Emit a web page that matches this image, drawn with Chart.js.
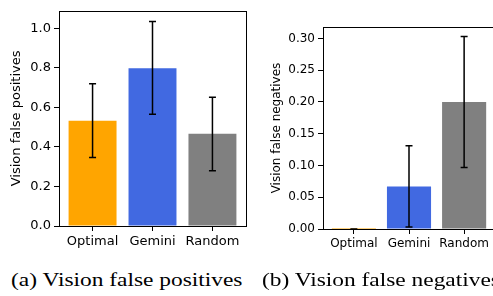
<!DOCTYPE html>
<html>
<head>
<meta charset="utf-8">
<script src="https://cdn.jsdelivr.net/npm/chart.js@4/dist/chart.umd.min.js"></script>
<style>
  html, body { margin: 0; padding: 0; background: #fff; width: 493px; height: 296px; overflow: hidden; position: relative; }
  canvas { position: absolute; top: 0; }
  #chartA { left: 0; }
  #chartB { left: 250px; }
  .caption { position: absolute; top: 269px; font-family: "Liberation Serif", "Times New Roman", serif; font-size: 19.5px; line-height: 22px; white-space: nowrap; color: #000; transform: scaleX(1.2); transform-origin: left center; }
</style>
</head>
<body>
<canvas id="chartA" width="252" height="256"></canvas>
<canvas id="chartB" width="250" height="256"></canvas>
<div class="caption" style="left: 11px">(a) Vision false positives</div>
<div class="caption" style="left: 262px">(b) Vision false negatives</div>

<script>
const categories = ["Optimal", "Gemini", "Random"]

// (a) false positives : moyenne et barres d'erreur
const falsePositives = [0.533, 0.798, 0.467]
const fpErrLow = [0.347, 0.565, 0.280]
const fpErrHigh = [0.720, 1.035, 0.652]
const fpTicks = [0, 0.2, 0.4, 0.6, 0.8, 1.0]

// (b) false negatives
const falseNegatives = [0, 0.067, 0.200]
const fnErrLow = [0, 0.003, 0.097]
const fnErrHigh = [0, 0.131, 0.303]
const fnTicks = [0, 0.05, 0.10, 0.15, 0.20, 0.25, 0.30]

const barColors = ["#ffa500", "#4169e1", "#808080"]

// barres d'erreur + cadre complet façon matplotlib
const errorBarsPlugin = {
    id: "errorBars",
    afterDatasetsDraw(chart) {
        const ctx = chart.ctx
        const x = chart.scales.x
        const y = chart.scales.y
        const ds = chart.data.datasets[0]
        ctx.save()
        ctx.strokeStyle = "#000"
        ctx.lineWidth = 1.5
        for (let i = 0; i < ds.data.length; i++) {
            const px = x.getPixelForValue(i)
            const yLow = y.getPixelForValue(ds.errLow[i])
            const yHigh = y.getPixelForValue(ds.errHigh[i])
            ctx.beginPath()
            ctx.moveTo(px, yLow)
            ctx.lineTo(px, yHigh)
            ctx.moveTo(px - 3.5, yLow)
            ctx.lineTo(px + 3.5, yLow)
            ctx.moveTo(px - 3.5, yHigh)
            ctx.lineTo(px + 3.5, yHigh)
            ctx.stroke()
        }
        ctx.restore()
    },
    afterDraw(chart) {
        const ctx = chart.ctx
        const a = chart.chartArea
        ctx.save()
        ctx.strokeStyle = "#000"
        ctx.lineWidth = 1
        ctx.strokeRect(Math.round(a.left) + 0.5, Math.round(a.top) + 0.5,
            Math.round(a.right - a.left), Math.round(a.bottom - a.top))
        ctx.restore()
    }
}

function creerGraphique(canvasId, valeurs, errLow, errHigh, ticksY, yMax, decimales, titreY, opts) {
    const data = {
        datasets: [{
            data: categories.map((c, i) => ({ x: i, y: valeurs[i] })),
            errLow: errLow,
            errHigh: errHigh,
            backgroundColor: barColors,
            barPercentage: 0.8,
            categoryPercentage: 1,
            minBarLength: 1,
        }],
    }

    const config = {
        type: "bar",
        data: data,
        plugins: [errorBarsPlugin],
        options: {
            responsive: false,
            animation: false,
            events: [],
            layout: { padding: { top: opts.top, right: opts.right, left: 0, bottom: 0 } },
            plugins: { legend: { display: false }, tooltip: { enabled: false } },
            scales: {
                x: {
                    type: "linear",
                    min: -0.56,
                    max: 2.56,
                    offset: false,
                    afterBuildTicks: (scale) => { scale.ticks = categories.map((c, i) => ({ value: i })) },
                    afterFit: (scale) => { scale.height = opts.xHeight },
                    ticks: {
                        callback: (v) => categories[v],
                        color: "#000",
                        padding: 3,
                        maxRotation: 0,
                        autoSkip: false,
                        font: { family: "DejaVu Sans", size: opts.font },
                    },
                    grid: { display: true, offset: false, drawOnChartArea: false, drawTicks: true, tickLength: 5, color: "#000" },
                    border: { display: false },
                },
                y: {
                    min: 0,
                    max: yMax,
                    afterBuildTicks: (scale) => { scale.ticks = ticksY.map(v => ({ value: v })) },
                    afterFit: (scale) => { scale.width = opts.yWidth },
                    ticks: {
                        callback: (v) => v.toFixed(decimales),
                        color: "#000",
                        padding: 3,
                        font: { family: "DejaVu Sans", size: opts.font },
                    },
                    grid: { display: true, drawOnChartArea: false, drawTicks: true, tickLength: 5, color: "#000" },
                    border: { display: false },
                    title: {
                        display: true,
                        text: titreY,
                        color: "#000",
                        padding: { top: opts.titlePad, bottom: 0 },
                        font: { family: "DejaVu Sans", size: opts.font },
                    },
                },
            },
        },
    }

    return new Chart(document.querySelector(canvasId), config)
}

creerGraphique("#chartA", falsePositives, fpErrLow, fpErrHigh, fpTicks, 1.089, 1,
    "Vision false positives", { top: 9, right: 6, xHeight: 30, yWidth: 59, font: 13, titlePad: 9 })

creerGraphique("#chartB", falseNegatives, fnErrLow, fnErrHigh, fnTicks, 0.318, 2,
    "Vision false negatives", { top: 27, right: 5, xHeight: 27, yWidth: 73, font: 12, titlePad: 20 })
</script>
</body>
</html>
